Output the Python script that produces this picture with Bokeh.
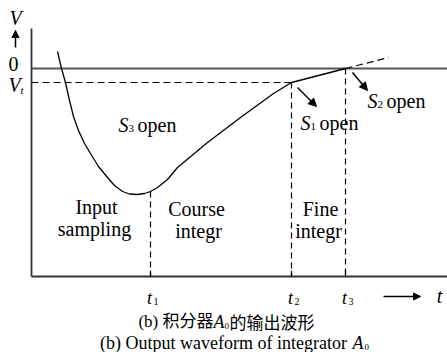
from bokeh.plotting import figure
from bokeh.models import Range1d, Arrow, NormalHead
from bokeh.core.properties import value
from bokeh.embed import file_html
from bokeh.resources import INLINE

# --- waveform of integrator A0 (time in arbitrary units, voltage relative to 0) ---
curve_t = [2.6, 3.0, 3.4, 3.8, 4.2, 4.7, 5.3, 5.9, 6.7, 7.6, 8.3, 9.1, 9.8,
           10.6, 11.3, 11.9, 12.6, 13.6, 14.6, 17.6, 20.9, 24.2, 26.0]
curve_v = [1.7, 0.0, -1.4, -3.2, -4.8, -6.2, -7.5, -8.5, -9.8, -10.9, -11.7,
           -12.3, -12.55, -12.6, -12.5, -12.3, -11.9, -11.1, -9.9, -7.4, -4.9,
           -2.5, -1.4]
fine_t = [26.0, 31.4]
fine_v = [-1.4, 0.0]
extra_t = [31.4, 35.7]
extra_v = [0.0, 1.1]

tick_names = ["1", "2", "3"]
tick_t = [11.9, 26.0, 31.4]
tick_v = [-12.3, -1.4, 0.0]   # waveform level at each switching instant
v_t = -1.4                    # threshold voltage Vt
v_base = -20.8                # level of the time axis

SERIF = "Liberation Serif"
CJK = "Noto Sans CJK SC"

p = figure(width=447, height=352, output_backend="svg", toolbar_location=None,
           x_range=Range1d(-3.1, 41.6), y_range=Range1d(-28.4, 6.8),
           min_border=0, tools="")
p.axis.visible = False
p.grid.visible = False
p.outline_line_color = None
p.background_fill_color = "white"


def X(px):
    return (px - 31) / 10.0


def Y(py):
    return (68 - py) / 10.0


AX = "#333333"
# axes
p.line([0, 0], [Y(28), v_base], line_color=AX, line_width=1.8)
p.line([0, X(447)], [v_base, v_base], line_color=AX, line_width=1.8)
# zero line
p.line([0, X(447)], [0, 0], line_color="#555555", line_width=2)
# threshold Vt
p.line([0, tick_t[1]], [v_t, v_t], line_color="black", line_width=1.2, line_dash="7 4")

# tick marks and dashed verticals
for tt, tv in zip(tick_t, tick_v):
    p.line([tt, tt], [v_base, v_base + 0.6], line_color=AX, line_width=1.3)
    p.line([tt, tt], [tv, v_base], line_color="black", line_width=1.2, line_dash="6 4")

# waveform
p.line(curve_t, curve_v, line_color="black", line_width=1.3)
p.line(fine_t, fine_v, line_color="black", line_width=1.3)
p.line(extra_t, extra_v, line_color="black", line_width=1.2, line_dash="7 4")


def txt(x, y, s, size=20, style="normal", align="center", font=SERIF):
    p.text([x], [y], text=[s], text_font=value(font), text_font_size=f"{size}px",
           text_font_style=style, text_align=align, text_baseline="middle",
           text_color="black")


def arrow(x0, y0, x1, y1, size=8):
    p.add_layout(Arrow(end=NormalHead(size=size, fill_color="black", line_color="black"),
                       x_start=X(x0), y_start=Y(y0), x_end=X(x1), y_end=Y(y1),
                       line_color="black", line_width=1.5))


# y axis label
txt(X(15), Y(17), "V", 20, "italic")
arrow(15, 47, 15, 30, 7)
txt(X(13), Y(63), "0", 20)
txt(X(14), Y(84), "V", 20, "italic")
txt(X(20), Y(89), "t", 11, "italic", "left")


def switch_label(x, y, sub):
    txt(X(x), Y(y), "S", 20, "italic", "left")
    txt(X(x + 10), Y(y + 4), sub, 11, "normal", "left")
    txt(X(x + 19), Y(y), "open", 20, "normal", "left")


# switch annotations
switch_label(118, 124, "3")
switch_label(300, 122, "1")
arrow(297, 87, 316, 106)
switch_label(367, 100, "2")
arrow(352, 72, 367, 90)

# phase labels
txt(X(96), Y(206), "Input")
txt(X(94), Y(228), "sampling")
txt(X(196), Y(208), "Course")
txt(X(198), Y(230), "integr")
txt(X(320), Y(208), "Fine")
txt(X(318), Y(230), "integr")

# time tick labels
for name, tt in zip(tick_names, tick_t):
    txt(tt - 0.1, Y(297), "t", 18, "italic")
    txt(tt + 0.3, Y(301), name, 10, "normal", "left")
arrow(383, 296, 420, 296, 7)
txt(X(439), Y(295), "t", 20, "italic")

# captions
txt(X(213), Y(321), "(b) 积分器", 17, "normal", "right", f"{SERIF}, {CJK}")
txt(X(213), Y(321), "A", 18, "italic", "left")
txt(X(224), Y(325), "0", 9, "normal", "left")
txt(X(229), Y(321), "的输出波形", 17, "normal", "left", CJK)
txt(X(351), Y(342), "(b) Output waveform of integrator ", 18, "normal", "right")
txt(X(352), Y(342), "A", 18, "italic", "left")
txt(X(364), Y(346), "0", 9, "normal", "left")

open("out.html", "w").write(file_html(p, INLINE))
